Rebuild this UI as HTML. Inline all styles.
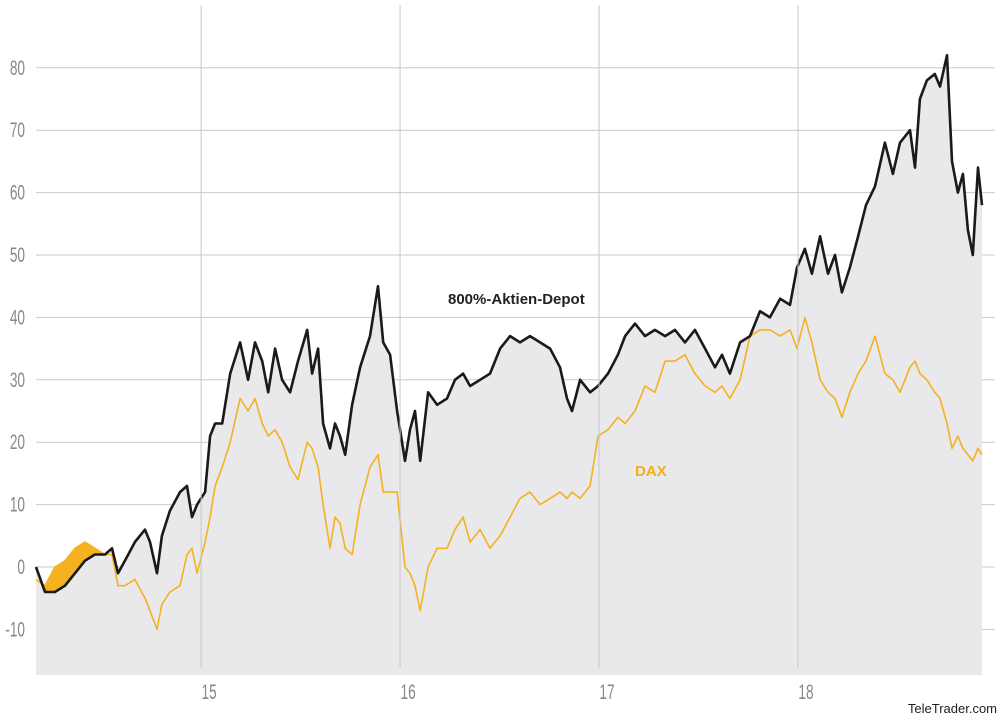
<!DOCTYPE html>
<html><head><meta charset="utf-8"><style>
html,body{margin:0;padding:0;background:#fff;}
svg{display:block;font-family:"Liberation Sans Narrow","Liberation Sans",sans-serif;}
</style></head><body>
<svg id="chart" width="1000" height="717" viewBox="0 0 1000 717" xmlns="http://www.w3.org/2000/svg">
<g id="grid"></g>
<g id="areas"></g>
<g id="lines"></g>
<g id="axes"></g>
<text x="448" y="304" font-family="Liberation Sans, sans-serif" font-weight="bold" font-size="15" fill="#222">800%-Aktien-Depot</text>
<text x="635" y="476" font-family="Liberation Sans, sans-serif" font-weight="bold" font-size="15" fill="#f2ad1c">DAX</text>
<text x="997" y="713" text-anchor="end" font-family="Liberation Sans, sans-serif" font-size="13" fill="#222">TeleTrader.com</text>
</svg>
<script>
const dates=[14.170,14.215,14.265,14.316,14.366,14.416,14.466,14.517,14.552,14.582,14.617,14.667,14.718,14.743,14.778,14.803,14.843,14.894,14.929,14.954,14.980,15.020,15.045,15.070,15.106,15.146,15.196,15.236,15.271,15.307,15.337,15.372,15.407,15.447,15.487,15.533,15.558,15.588,15.613,15.648,15.673,15.698,15.724,15.759,15.799,15.849,15.889,15.915,15.950,15.985,16.025,16.050,16.075,16.101,16.141,16.186,16.236,16.276,16.317,16.352,16.402,16.452,16.503,16.553,16.603,16.653,16.704,16.754,16.804,16.839,16.864,16.905,16.955,16.995,17.045,17.095,17.131,17.181,17.231,17.281,17.332,17.382,17.432,17.482,17.533,17.583,17.618,17.658,17.709,17.759,17.809,17.859,17.910,17.960,17.995,18.035,18.070,18.111,18.151,18.186,18.221,18.261,18.302,18.342,18.387,18.437,18.477,18.513,18.563,18.588,18.613,18.648,18.688,18.714,18.749,18.774,18.804,18.829,18.854,18.879,18.905,18.925];
const depot=[0,-4,-4,-3,-1,1,2,2,3,-1,1,4,6,4,-1,5,9,12,13,8,10,12,21,23,23,31,36,30,36,33,28,35,30,28,33,38,31,35,23,19,23,21,18,26,32,37,45,36,34,25,17,22,25,17,28,26,27,30,31,29,30,31,35,37,36,37,36,35,32,27,25,30,28,29,31,34,37,39,37,38,37,38,36,38,35,32,34,31,36,37,41,40,43,42,48,51,47,53,47,50,44,48,53,58,61,68,63,68,70,64,75,78,79,77,82,65,60,63,54,50,64,58];
const dax=[-2,-3,0,1,3,4,3,2,2,-3,-3,-2,-5,-7,-10,-6,-4,-3,2,3,-1,4,8,13,16,20,27,25,27,23,21,22,20,16,14,20,19,16,10,3,8,7,3,2,10,16,18,12,12,12,0,-1,-3,-7,0,3,3,6,8,4,6,3,5,8,11,12,10,11,12,11,12,11,13,21,22,24,23,25,29,28,33,33,34,31,29,28,29,27,30,37,38,38,37,38,35,40,36,30,28,27,24,28,31,33,37,31,30,28,32,33,31,30,28,27,23,19,21,19,18,17,19,18];
const yTicks=[-10,0,10,20,30,40,50,60,70,80];
const xTicks=[15,16,17,18];
const xTickLabels=["15","16","17","18"];

const NS="http://www.w3.org/2000/svg";
const X0=36,X1=982,T0=14.17,T1=18.925,BOTTOM=675;
const xs=t=>X0+(t-T0)/(T1-T0)*(X1-X0);
const ys=v=>567-v*6.24;
function mk(tag,attrs,parent){const e=document.createElementNS(NS,tag);for(const k in attrs)e.setAttribute(k,attrs[k]);parent.appendChild(e);return e;}
const grid=document.getElementById('grid'),areas=document.getElementById('areas'),lines=document.getElementById('lines'),axes=document.getElementById('axes');

const pts=(arr)=>dates.map((d,i)=>xs(d).toFixed(1)+','+ys(arr[i]).toFixed(1)).join(' ');
const area=mk('polygon',{points:xs(dates[0])+','+BOTTOM+' '+pts(depot)+' '+xs(dates[dates.length-1])+','+BOTTOM,fill:'#e9e9ec'},areas);


const defs=mk('defs',{},areas);
const cp=mk('clipPath',{id:'aboveDepot'},defs);
mk('polygon',{points:xs(dates[0])+',0 '+pts(depot)+' '+xs(dates[dates.length-1])+',0'},cp);
const cpg=mk('g',{'clip-path':'url(#aboveDepot)'},areas);
const cp2=mk('clipPath',{id:'early'},defs);
mk('rect',{x:0,y:0,width:xs(14.75),height:717},cp2);
const cpg2=mk('g',{'clip-path':'url(#early)'},cpg);
const oa=mk('polygon',{points:xs(dates[0])+','+BOTTOM+' '+pts(dax)+' '+xs(dates[dates.length-1])+','+BOTTOM,fill:'#f4b120'},cpg2);



yTicks.forEach(v=>{
  const l=mk('line',{x1:36,x2:995,y1:ys(v),y2:ys(v),stroke:'#c8c8c8','stroke-width':1},grid);
  
  
  const t=mk('text',{transform:'translate(25,'+(ys(v)+7)+') scale(0.65,1)','text-anchor':'end','font-size':21,fill:'#888'},axes);
  t.textContent=String(v);
  
  
});
xTicks.forEach((v,i)=>{
  const l=mk('line',{x1:xs(v),x2:xs(v),y1:5,y2:668,stroke:'#c8c8c8','stroke-width':1},axes);
  
  
  const t=mk('text',{transform:'translate('+(xs(v)+8)+',699) scale(0.65,1)','text-anchor':'middle','font-size':21,fill:'#888'},axes);
  t.textContent=xTickLabels[i];
  
  
});

const dl=mk('polyline',{points:pts(dax),fill:'none',stroke:'#f4b120','stroke-width':1.6,'stroke-linejoin':'round'},lines);


const bl=mk('polyline',{points:pts(depot),fill:'none',stroke:'#1a1a1a','stroke-width':2.6,'stroke-linejoin':'round'},lines);


</script>
</body></html>
